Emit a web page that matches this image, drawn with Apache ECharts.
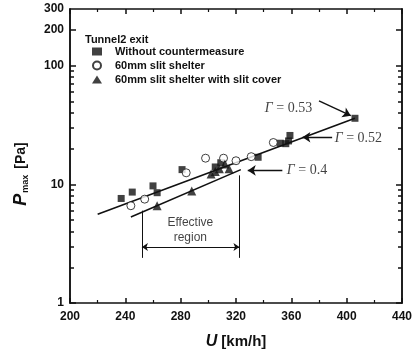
<!DOCTYPE html>
<html>
<head>
<meta charset="utf-8">
<script src="https://cdn.jsdelivr.net/npm/echarts@6/dist/echarts.min.js"></script>
<style>
  html, body { margin: 0; padding: 0; background: #fff; }
  #chart { width: 415px; height: 355px; }
</style>
</head>
<body>
<div id="chart"></div>
<script>
// measured points, U [km/h] vs Pmax [Pa]
const withoutCm = [
  [237, 7.6], [245, 8.6], [260, 9.7], [263, 8.5], [281, 13.3],
  [305, 14.0], [309, 15.2], [336, 16.9], [352, 22.2], [356, 22.0],
  [358, 23.2], [359, 25.8], [406, 36]
]
const slitShelter = [
  [244, 6.6], [254, 7.5], [284, 12.5], [298, 16.6], [311, 16.6],
  [320, 15.8], [331, 17.1], [347, 22.5]
]
const slitCover = [
  [263, 6.6], [288, 8.8], [302, 12.2], [305, 12.8], [308, 13.5],
  [312, 14.8], [315, 13.5]
]

// fitted lines
const fitUpper = [[220, 5.6], [406, 36]]
const fitLower = [[244, 5.3], [323.5, 13.3]]

// annotations (data units)
const gammaNotes = [
  [340.5, 44, '0.53'],
  [391, 24.4, '0.52'],
  [356.4, 13.0, '0.4']
]
const gammaArrows = [
  [[380, 50.4], [403, 37.9]],
  [[389.5, 24.9], [368, 24.9]],
  [[353.5, 13.1], [328.5, 13.1]]
]
const regionLeft = [[252, 6.0], [252, 2.4]]
const regionRight = [[322.5, 11.9], [322.5, 2.4]]
const regionArrow = [[252, 2.96], [322.5, 2.96]]
const regionNote = [[287, 4.1, 'Effective\nregion']]

const yLabels = [1, 10, 100, 200, 300]
const yMajor = [1, 10, 100, 200]
const yMinor = [2, 3, 4, 5, 6, 7, 8, 9, 20, 30, 40, 50, 60, 70, 80, 90]

const chart = echarts.init(document.getElementById('chart'))

const FONT = 'Liberation Sans'
const black = '#111'

const baseY = {
  type: 'log',
  logBase: 10,
  min: 1,
  max: 300,
  axisLine: { show: true, lineStyle: { color: black, width: 1.5 } },
  splitLine: { show: false },
  minorTick: { show: false }
}

const option = {
  animation: false,
  backgroundColor: '#fff',
  title: {
    text: 'Tunnel2 exit',
    left: 80,
    top: 29,
    textStyle: { fontFamily: FONT, fontSize: 11, fontWeight: 'bold', color: black }
  },
  legend: {
    data: ['Without countermeasure', '60mm slit shelter', '60mm slit shelter with slit cover'],
    orient: 'vertical',
    left: 92,
    top: 46,
    padding: 0,
    itemGap: 3,
    itemWidth: 10,
    itemHeight: 8,
    textStyle: { fontFamily: FONT, fontSize: 11, fontWeight: 'bold', color: black, padding: [0, 0, 0, 8] }
  },
  grid: { left: 70, right: 12, top: 9, bottom: 49 },
  xAxis: [
    {
      type: 'value',
      min: 200,
      max: 440,
      interval: 40,
      name: '{u|U} [km/h]',
      nameLocation: 'middle',
      nameGap: 31,
      nameTextStyle: {
        fontFamily: FONT, fontSize: 15, fontWeight: 'bold', color: black,
        rich: { u: { fontFamily: FONT, fontSize: 16, fontWeight: 'bold', fontStyle: 'italic', color: black } }
      },
      axisLine: { show: true, lineStyle: { color: black, width: 1.5 } },
      axisTick: { show: true, inside: true, length: 5, lineStyle: { color: black, width: 1.5 } },
      minorTick: { show: true, splitNumber: 2, length: 3, lineStyle: { color: black, width: 1.2 } },
      axisLabel: { fontFamily: FONT, fontSize: 12, fontWeight: 'bold', color: black, margin: 8 },
      splitLine: { show: false }
    },
    {
      type: 'value',
      position: 'top',
      min: 200,
      max: 440,
      interval: 40,
      axisLine: { show: true, lineStyle: { color: black, width: 1.5 } },
      axisTick: { show: true, inside: true, length: 5, lineStyle: { color: black, width: 1.5 } },
      minorTick: { show: true, splitNumber: 2, length: 3, lineStyle: { color: black, width: 1.2 } },
      axisLabel: { show: false },
      splitLine: { show: false }
    }
  ],
  yAxis: [
    Object.assign({}, baseY, {
      position: 'left',
      name: '{p|P}{s|max} [Pa]',
      nameLocation: 'middle',
      nameGap: 40,
      nameRotate: 90,
      nameTextStyle: {
        fontFamily: FONT, fontSize: 14, fontWeight: 'bold', color: black,
        padding: [0, 36, 0, 0],
        rich: {
          p: { fontFamily: FONT, fontSize: 18, fontWeight: 'bold', fontStyle: 'italic', color: black },
          s: { fontFamily: FONT, fontSize: 9, fontWeight: 'bold', color: black, verticalAlign: 'bottom', padding: [8, 2, 0, 1] }
        }
      },
      axisTick: { show: true, inside: true, length: 6, customValues: yMajor, lineStyle: { color: black, width: 1.5 } },
      axisLabel: { show: true, customValues: yLabels, fontFamily: FONT, fontSize: 12, fontWeight: 'bold', color: black, margin: 6 }
    }),
    Object.assign({}, baseY, {
      position: 'left',
      axisTick: { show: true, inside: true, length: 4, customValues: yMinor, lineStyle: { color: black, width: 1.5 } },
      axisLabel: { show: false }
    }),
    Object.assign({}, baseY, {
      position: 'right',
      axisTick: { show: true, inside: true, length: 6, customValues: yMajor, lineStyle: { color: black, width: 1.5 } },
      axisLabel: { show: false }
    }),
    Object.assign({}, baseY, {
      position: 'right',
      axisTick: { show: true, inside: true, length: 4, customValues: yMinor, lineStyle: { color: black, width: 1.5 } },
      axisLabel: { show: false }
    })
  ],
  series: [
    {
      name: 'fits',
      type: 'lines',
      coordinateSystem: 'cartesian2d',
      data: [{ coords: fitUpper }, { coords: fitLower }],
      lineStyle: { color: black, width: 1.6, opacity: 1, curveness: 0 },
      z: 2
    },
    {
      name: 'Without countermeasure',
      type: 'scatter',
      data: withoutCm,
      symbol: 'rect',
      symbolSize: 7,
      itemStyle: { color: black },
      z: 3
    },
    {
      name: '60mm slit shelter',
      type: 'scatter',
      data: slitShelter,
      symbol: 'circle',
      symbolSize: 8,
      itemStyle: { color: '#fff', borderColor: black, borderWidth: 1 },
      z: 3
    },
    {
      name: '60mm slit shelter with slit cover',
      type: 'scatter',
      data: slitCover,
      symbol: 'triangle',
      symbolSize: 9,
      itemStyle: { color: black },
      z: 3
    },
    {
      name: 'gamma notes',
      type: 'scatter',
      data: gammaNotes,
      symbolSize: 1,
      itemStyle: { color: 'transparent' },
      label: {
        show: true,
        position: 'right',
        distance: 0,
        formatter: p => '{g|Γ} = ' + p.data[2],
        fontFamily: 'Liberation Serif',
        fontSize: 14,
        color: black,
        rich: { g: { fontFamily: 'Liberation Serif', fontSize: 14, fontStyle: 'italic', color: black } }
      }
    },
    {
      name: 'gamma arrows',
      type: 'lines',
      coordinateSystem: 'cartesian2d',
      data: gammaArrows.map(c => ({ coords: c })),
      symbol: ['none', 'arrow'],
      symbolSize: [0, 8],
      lineStyle: { color: black, width: 1.4, opacity: 1, curveness: 0 }
    },
    {
      name: 'region lines',
      type: 'lines',
      coordinateSystem: 'cartesian2d',
      data: [{ coords: regionLeft }, { coords: regionRight }],
      lineStyle: { color: black, width: 1, opacity: 1, curveness: 0 }
    },
    {
      name: 'region arrow',
      type: 'lines',
      coordinateSystem: 'cartesian2d',
      data: [{ coords: regionArrow }],
      symbol: ['arrow', 'arrow'],
      symbolSize: 6,
      lineStyle: { color: black, width: 1, opacity: 1, curveness: 0 }
    },
    {
      name: 'region note',
      type: 'scatter',
      data: regionNote,
      symbolSize: 1,
      itemStyle: { color: 'transparent' },
      label: {
        show: true,
        position: 'inside',
        formatter: p => p.data[2],
        fontFamily: FONT,
        fontSize: 12,
        lineHeight: 15,
        color: black,
        align: 'center'
      }
    }
  ]
}

chart.setOption(option)
</script>
</body>
</html>
